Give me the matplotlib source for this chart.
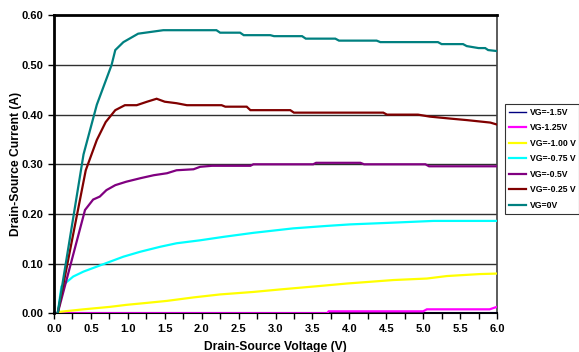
import matplotlib
matplotlib.use("Agg")
import matplotlib.pyplot as plt
from matplotlib.ticker import MultipleLocator, FuncFormatter
from matplotlib import font_manager

plt.rcParams['font.family'] = ['Liberation Sans', 'DejaVu Sans']
plt.rcParams['font.weight'] = 'bold'

# ---- data ----
labels = ["VG=-1.5V", "VG-1.25V", "VG=-1.00 V", "VG=-0.75 V", "VG=-0.5V", "VG=-0.25 V", "VG=0V"]
colors = ["#000080", "#FF00FF", "#FFFF00", "#00FFFF", "#800080", "#800000", "#008080"]

vg15_x = [0.0, 6.0]
vg15_y = [0.0, 0.0]

vg125_x = [0.05, 3.70, 3.72, 5.00, 5.05, 5.90, 6.00]
vg125_y = [0.000, 0.000, 0.004, 0.004, 0.008, 0.008, 0.013]

vg100_x = [0.05, 0.08, 0.40, 0.76, 0.98, 1.26, 1.53, 1.89, 2.25, 2.70, 3.06, 3.60, 3.97, 4.60, 5.05, 5.32, 5.77, 6.00]
vg100_y = [0.000, 0.003, 0.008, 0.013, 0.017, 0.021, 0.025, 0.032, 0.038, 0.043, 0.048, 0.055, 0.060, 0.067, 0.070, 0.075, 0.079, 0.080]

vg075_x = [0.05, 0.10, 0.26, 0.40, 0.58, 0.76, 0.94, 1.17, 1.44, 1.66, 1.98, 2.30, 2.70, 3.24, 3.70, 4.01, 4.51, 5.14, 6.00]
vg075_y = [0.000, 0.054, 0.074, 0.084, 0.094, 0.104, 0.114, 0.124, 0.134, 0.141, 0.147, 0.154, 0.162, 0.171, 0.176, 0.179, 0.182, 0.186, 0.186]

vg05_x = [0.05, 0.42, 0.53, 0.62, 0.71, 0.83, 0.98, 1.17, 1.35, 1.53, 1.66, 1.89, 1.98, 2.14, 2.66, 2.70, 3.51, 3.55, 4.15, 4.20, 5.03, 5.08, 6.00]
vg05_y = [0.000, 0.208, 0.229, 0.235, 0.248, 0.258, 0.265, 0.272, 0.278, 0.282, 0.288, 0.290, 0.295, 0.297, 0.297, 0.300, 0.300, 0.303, 0.303, 0.300, 0.300, 0.296, 0.296]

vg025_x = [0.05, 0.43, 0.58, 0.70, 0.83, 0.96, 1.12, 1.26, 1.39, 1.50, 1.66, 1.80, 2.27, 2.32, 2.61, 2.66, 3.20, 3.25, 4.46, 4.51, 4.93, 5.09, 5.37, 5.59, 5.91, 6.00]
vg025_y = [0.000, 0.288, 0.349, 0.385, 0.409, 0.419, 0.419, 0.426, 0.432, 0.426, 0.423, 0.419, 0.419, 0.416, 0.416, 0.409, 0.409, 0.404, 0.404, 0.400, 0.400, 0.396, 0.392, 0.389, 0.384, 0.380]

vg0_x = [0.05, 0.40, 0.58, 0.78, 0.83, 0.94, 1.14, 1.48, 2.20, 2.25, 2.52, 2.57, 2.93, 2.98, 3.36, 3.41, 3.81, 3.86, 4.37, 4.42, 5.20, 5.25, 5.54, 5.59, 5.75, 5.84, 5.88, 6.00]
vg0_y = [0.000, 0.320, 0.420, 0.500, 0.530, 0.546, 0.563, 0.570, 0.570, 0.565, 0.565, 0.560, 0.560, 0.558, 0.558, 0.553, 0.553, 0.549, 0.549, 0.546, 0.546, 0.542, 0.542, 0.538, 0.534, 0.534, 0.530, 0.528]

series_x = [vg15_x, vg125_x, vg100_x, vg075_x, vg05_x, vg025_x, vg0_x]
series_y = [vg15_y, vg125_y, vg100_y, vg075_y, vg05_y, vg025_y, vg0_y]

x_label = "Drain-Source Voltage (V)"
y_label = "Drain-Source Current (A)"

# legend font: narrow if available
names = {f.name for f in font_manager.fontManager.ttflist}
leg_family = ['Liberation Sans Narrow', 'Liberation Sans'] if 'Liberation Sans Narrow' in names else ['Liberation Sans']
leg_size = 7 if 'Liberation Sans Narrow' in names else 6.2

# ---- figure ----
fig = plt.figure(figsize=(5.79, 3.52), dpi=100)
ax = fig.add_axes([54/579, 1-313.3/352, (497-54)/579, (313.3-15.3)/352])

for yv in [0.1, 0.2, 0.3, 0.4, 0.5]:
    ax.axhline(yv, color="#303030", lw=1.0, zorder=1)

handles = []
for xs, ys, c, lab in zip(series_x, series_y, colors, labels):
    lw = 1.0 if lab == "VG=-1.5V" else 1.6
    h, = ax.plot(xs, ys, color=c, lw=lw, label=lab, zorder=3, solid_joinstyle='miter')
    handles.append(h)

ax.set_xlim(0, 6)
ax.set_ylim(0, 0.6)
ax.xaxis.set_major_locator(MultipleLocator(0.5))
ax.xaxis.set_minor_locator(MultipleLocator(0.25))
ax.yaxis.set_major_locator(MultipleLocator(0.1))
ax.xaxis.set_major_formatter(FuncFormatter(lambda v, p: f"{v:.1f}"))
ax.yaxis.set_major_formatter(FuncFormatter(lambda v, p: f"{v:.2f}"))
ax.tick_params(axis='both', which='both', direction='out', length=4, width=1, labelsize=8, color='black')
ax.tick_params(axis='x', which='both', pad=4)
for lab in ax.get_xticklabels() + ax.get_yticklabels():
    lab.set_fontweight('bold')

ax.spines['left'].set_linewidth(2.0)
ax.spines['top'].set_linewidth(2.0)
ax.spines['bottom'].set_linewidth(1.5)
ax.spines['right'].set_linewidth(1.2)
ax.spines['right'].set_color('#404040')

ax.set_xlabel(x_label, fontsize=8.7, fontweight='bold', labelpad=5)
ax.set_ylabel(y_label, fontsize=8.7, fontweight='bold', labelpad=0)

leg = fig.legend(handles=handles, labels=labels, loc='upper left',
                 bbox_to_anchor=(505/579, 1-104/352),
                 prop={'family': leg_family, 'size': leg_size, 'weight': 'bold'},
                 frameon=True, fancybox=False, edgecolor='black',
                 handlelength=2.0, handletextpad=0.4, labelspacing=0.75,
                 borderpad=0.45, borderaxespad=0)
leg.get_frame().set_linewidth(0.8)

fig.savefig("out.png", dpi=100)
